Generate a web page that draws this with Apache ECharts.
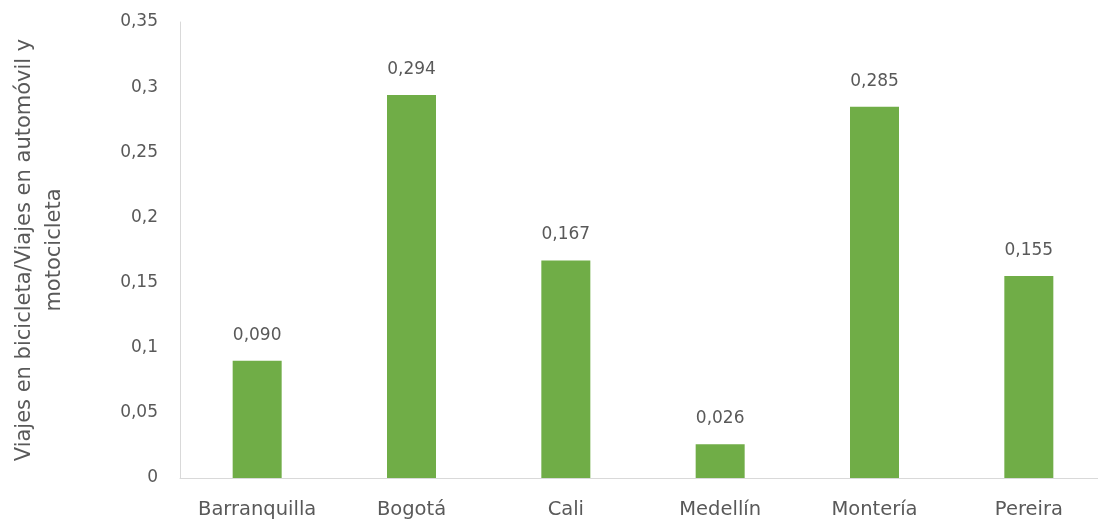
<!DOCTYPE html>
<html>
<head>
<meta charset="utf-8">
<script src="https://cdn.jsdelivr.net/npm/echarts@6/dist/echarts.min.js"></script>
<style>
  html, body { margin: 0; padding: 0; background: #fff; overflow: hidden; }
  /* the plot area runs slightly past the right edge of the page */
  #chart { width: 1106px; height: 525px; }
</style>
</head>
<body>
<div id="chart"></div>
<script>
// Ratio of bicycle trips to car + motorcycle trips, by city
const cities = ['Barranquilla', 'Bogotá', 'Cali', 'Medellín', 'Montería', 'Pereira'];
const ratios = [0.090, 0.294, 0.167, 0.026, 0.285, 0.155];
const yTitle = 'Viajes en bicicleta/Viajes en automóvil y\nmotocicleta';

const textColor = '#595959';
const fontFamily = '"DejaVu Sans", "Open Sans", sans-serif';
const comma = v => String(v).replace('.', ',');

const chart = echarts.init(document.getElementById('chart'));
chart.setOption({
  animation: false,
  textStyle: { fontFamily: fontFamily },
  grid: { left: 180, right: 0, top: 22, bottom: 47, containLabel: false },
  xAxis: {
    type: 'category',
    data: cities,
    axisLine: { lineStyle: { color: '#d9d9d9', width: 1 } },
    axisTick: { show: false },
    axisLabel: { color: textColor, fontSize: 19.5, margin: 22, fontFamily: fontFamily }
  },
  yAxis: {
    type: 'value',
    min: 0,
    max: 0.35,
    interval: 0.05,
    name: yTitle,
    nameLocation: 'middle',
    nameRotate: 90,
    nameGap: 110,
    nameTextStyle: { color: textColor, fontSize: 21, lineHeight: 30, fontFamily: fontFamily },
    axisLine: { show: true, lineStyle: { color: '#d9d9d9', width: 1 } },
    axisTick: { show: false },
    splitLine: { show: false },
    axisLabel: {
      color: textColor, fontSize: 17, margin: 22, fontFamily: fontFamily,
      formatter: v => comma(+v.toFixed(2))
    }
  },
  series: [{
    type: 'bar',
    data: ratios,
    barWidth: 49,
    itemStyle: { color: '#70AD47' },
    label: {
      show: true,
      position: 'top',
      distance: 17,
      color: textColor,
      fontSize: 17,
      fontFamily: fontFamily,
      formatter: p => comma(p.value.toFixed(3))
    }
  }]
});
</script>
</body>
</html>
